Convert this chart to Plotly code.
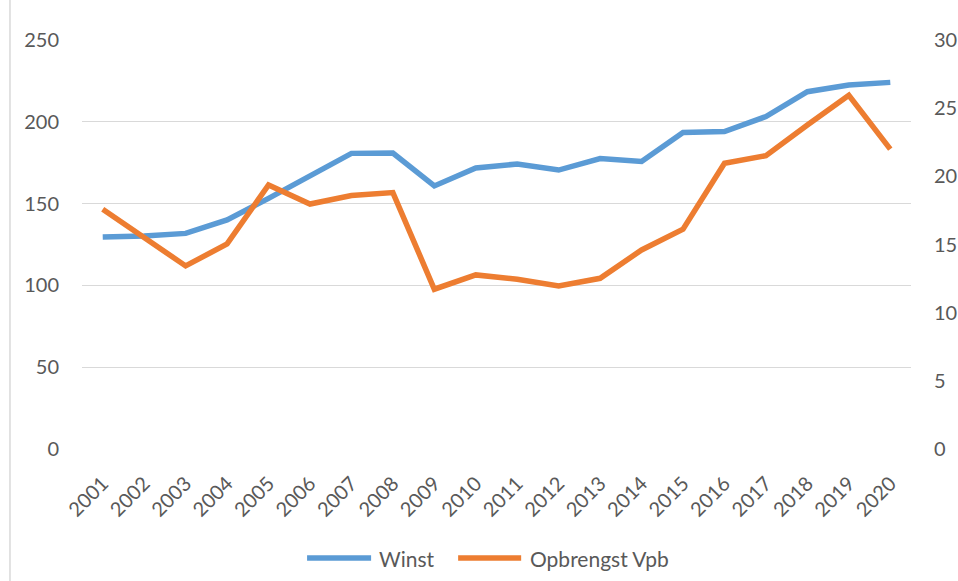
import plotly.graph_objects as go

years = [str(y) for y in range(2001, 2021)]
winst = [129.6, 130.2, 131.8, 140.0, 153.2, 166.9, 180.7, 180.9, 160.8, 171.8,
         174.2, 170.5, 177.5, 175.8, 193.4, 194.0, 203.2, 218.4, 222.5, 224.1]
vpb = [17.58, 15.5, 13.43, 15.04, 19.37, 17.97, 18.59, 18.81, 11.72, 12.77,
       12.45, 11.96, 12.52, 14.6, 16.12, 20.96, 21.52, 23.77, 25.95, 21.99]

left_ticks = [0, 50, 100, 150, 200, 250]
right_ticks = [0, 5, 10, 15, 20, 25, 30]

W, H = 958, 581
L, R, T, B = 82, 910.7, 40, 449
PW, PH = R - L, B - T

def px(x):
    return (x - L) / PW

def py(y):
    return (B - y) / PH

FAM = "Lato, 'Open Sans', sans-serif"
GRAY = "#595959"
BLUE = "#5B9BD5"
ORANGE = "#ED7D31"

fig = go.Figure()
fig.add_trace(go.Scatter(x=years, y=winst, name="Winst", mode="lines",
                         line=dict(color=BLUE, width=5.5), yaxis="y"))
fig.add_trace(go.Scatter(x=years, y=vpb, name="Opbrengst Vpb", mode="lines",
                         line=dict(color=ORANGE, width=5.5), yaxis="y2"))

tf = dict(family=FAM, size=20, color=GRAY)

ly = 558
legend_shapes = [
    dict(type="line", xref="paper", yref="paper", x0=px(307), x1=px(371),
         y0=py(ly), y1=py(ly), line=dict(color=BLUE, width=5.5)),
    dict(type="line", xref="paper", yref="paper", x0=px(458), x1=px(521),
         y0=py(ly), y1=py(ly), line=dict(color=ORANGE, width=5.5)),
]
legend_ann = [
    dict(text="Winst", xref="paper", yref="paper", x=px(377), y=py(ly),
         xanchor="left", yanchor="middle", showarrow=False,
         font=dict(family=FAM, size=21, color=GRAY)),
    dict(text="Opbrengst Vpb", xref="paper", yref="paper", x=px(528), y=py(ly),
         xanchor="left", yanchor="middle", showarrow=False,
         font=dict(family=FAM, size=21, color=GRAY)),
]

fig.update_layout(
    width=W, height=H,
    margin=dict(l=L, r=W - R, t=T, b=H - B, pad=0, autoexpand=False),
    paper_bgcolor="white", plot_bgcolor="white",
    font=dict(family=FAM, size=20, color=GRAY),
    showlegend=False,
    xaxis=dict(type="category", range=[-0.5, 19.5], showgrid=False, zeroline=False,
               showline=False, ticks="", tickangle=-45, automargin=False,
               ticklabelstandoff=18, tickfont=tf),
    yaxis=dict(range=[0, 250], tickvals=left_ticks, showgrid=True, gridcolor="#D9D9D9",
               gridwidth=1.3, zeroline=False, showline=False, ticks="",
               automargin=False, ticklabelstandoff=22, tickfont=tf),
    yaxis2=dict(range=[0, 30], tickvals=right_ticks, overlaying="y", side="right",
                showgrid=False, zeroline=False, showline=False, ticks="",
                automargin=False, ticklabelstandoff=22, tickfont=tf),
    shapes=[dict(type="line", xref="paper", yref="paper",
                 x0=px(10), x1=px(10), y0=py(0), y1=py(H),
                 line=dict(color="#D9D9D9", width=1.5))] + legend_shapes,
    annotations=legend_ann,
)

fig.write_html("out.html",
               config={"displayModeBar": False},
               post_script="document.body.style.margin='0px';document.body.style.overflow='hidden';")
